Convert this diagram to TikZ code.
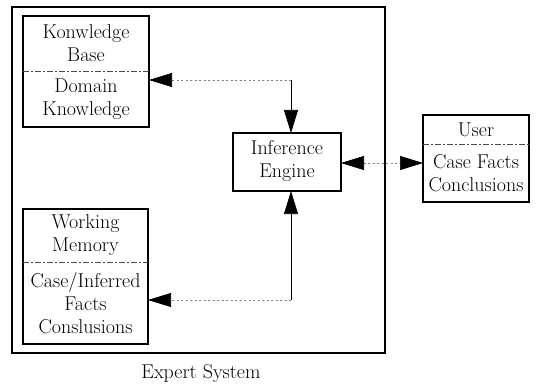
\documentclass[tikz,border=0pt]{standalone}
\usetikzlibrary{arrows.meta}
\begin{document}
\begin{tikzpicture}[x=1pt,y=-1pt,
  boxline/.style={line width=1.3pt},
  divline/.style={line width=0.6pt, dash pattern=on 6pt off 2pt on 2pt off 2pt, black!70},
  txt/.style={font=\fontsize{20}{23}\selectfont, align=center, inner sep=0pt},
  tip/.style={-{Triangle[length=23pt,width=14pt,color=black]}},
  faint/.style={line width=0.6pt, black!50, dash pattern=on 2pt off 2.5pt},
  solidln/.style={line width=0.7pt}]
\useasboundingbox (0,0) rectangle (540,385);
% outer frame
\draw[boxline] (12,7) rectangle (385,353);
\node[txt] (es) at (201,374) {Expert System};
% Knowledge base
\draw[boxline] (23,16) rectangle (149,127);
\draw[divline] (23,71) -- (149,71);
\node[txt] (kbt) at (86,43) {Konwledge\\Base};
\node[txt] (kbb) at (86,99) {Domain\\Knowledge};
\coordinate (kbA) at (149,80);
% Working memory
\draw[boxline] (23,209) rectangle (148,344);
\draw[divline] (23,262) -- (148,262);
\node[txt] (wmt) at (85.5,235) {Working\\Memory};
\node[txt] (wmb) at (85.5,303) {Case/Inferred\\Facts\\Conslusions};
\coordinate (wmA) at (148,300);
% Inference engine
\draw[boxline] (233,133) rectangle (341,191);
\node[txt] (ie) at (287,161) {Inference\\Engine};
\coordinate (ieT) at (291,133);
\coordinate (ieB) at (291,191);
\coordinate (ieE) at (341,163);
% User
\draw[boxline] (423,115) rectangle (529,202);
\draw[divline] (423,144) -- (529,144);
\node[txt] (ut) at (476,130) {User};
\node[txt] (ub) at (476,173) {Case Facts\\Conclusions};
\coordinate (uW) at (423,163);
% connectors
\coordinate (c1) at (291,80);
\coordinate (c2) at (291,300);
\draw[faint, tip] (c1) -- (kbA);
\draw[solidln, tip] (c1) -- (ieT);
\draw[faint, tip] (c2) -- (wmA);
\draw[solidln, tip] (c2) -- (ieB);
\draw[faint, {Triangle[length=23pt,width=14pt,color=black]}-{Triangle[length=23pt,width=14pt,color=black]}] (ieE) -- (uW);
\end{tikzpicture}
\end{document}
